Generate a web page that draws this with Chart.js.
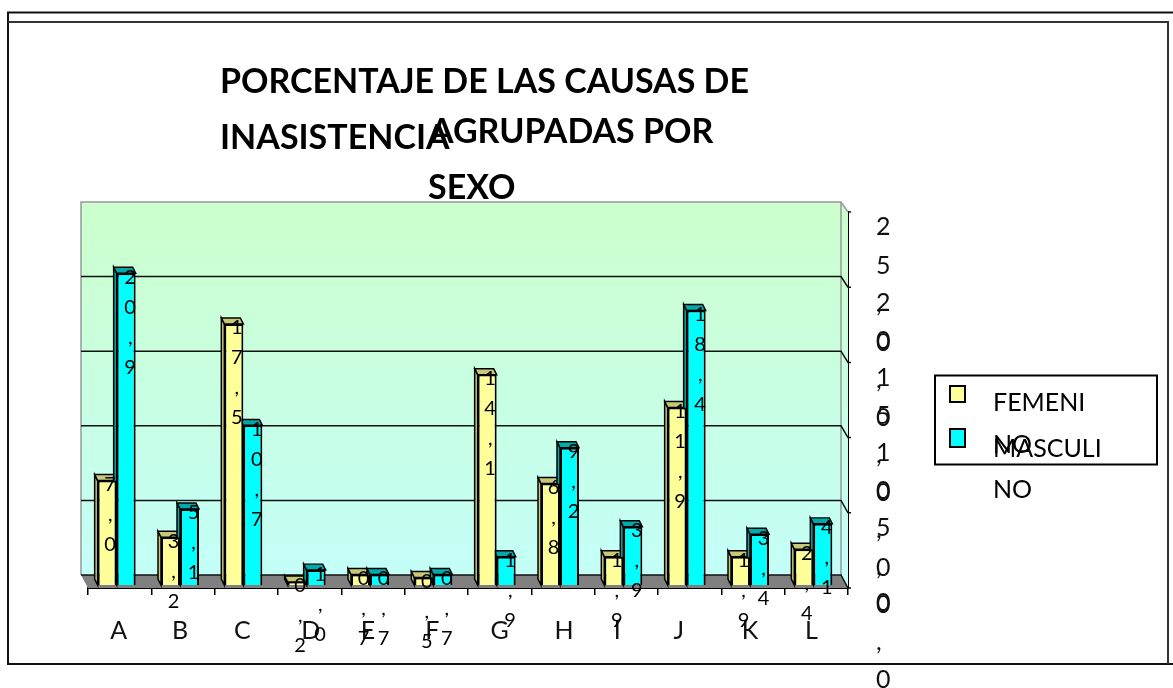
<!DOCTYPE html>
<html>
<head>
<meta charset="utf-8">
<style>html,body{margin:0;padding:0;background:#fff}canvas{display:block}</style>
<script src="https://cdn.jsdelivr.net/npm/chart.js@4"></script>
</head>
<body>
<div style="width:1173px;height:688px"><canvas id="c" width="1173" height="688"></canvas></div>
<script>
const categories = ['A','B','C','D','E','F','G','H','I','J','K','L'];
const femenino = [7.0,3.2,17.5,0.2,0.7,0.5,14.1,6.8,1.9,11.9,1.9,2.4];
const masculino = [20.9,5.1,10.7,1.0,0.7,0.7,1.9,9.2,3.9,18.4,3.4,4.1];
const seriesNames = ['FEMENINO','MASCULINO'];
const FONT = 'Lato, Carlito, sans-serif';
const fmt = v => v.toFixed(1).replace('.', ',');
const DX = 7, DY = 13;       // wall depth
const K = 0.992;             // vertical foreshortening of the 3D view
const MX = 3, MY = 3;        // bars stand at mid-depth
const BX = 3, BY = 6;        // bar depth
const xLabelNudge = [2,0,-1,4,-2,-1,3,4,-6,-8,0,-2];

function text(ctx, s, x, y, font, align) {
  ctx.font = font; ctx.fillStyle = '#000'; ctx.textAlign = align || 'left'; ctx.textBaseline = 'middle';
  ctx.fillText(s, x, y);
}
function poly(ctx, pts, fill, stroke, lw) {
  ctx.beginPath(); pts.forEach((p,i)=> i?ctx.lineTo(p[0],p[1]):ctx.moveTo(p[0],p[1])); ctx.closePath();
  if (fill) { ctx.fillStyle = fill; ctx.fill(); }
  if (stroke) { ctx.strokeStyle = stroke; ctx.lineWidth = lw||1; ctx.stroke(); }
}

const scene = {
  id: 'scene',
  beforeDraw(chart) {
    const sx = chart.scales.x;
    if (!sx._nudged) {
      sx.getLabelItems().forEach((it,i)=>{ it.options.translation[0] += xLabelNudge[i]; });
      sx._nudged = true;
    }
  },
  beforeDatasetsDraw(chart) {
    const {ctx, chartArea:a, scales:{y}} = chart;
    ctx.save();
    // frames
    ctx.strokeStyle = '#111'; ctx.lineWidth = 2;
    ctx.beginPath(); ctx.moveTo(1173,12.5); ctx.lineTo(8,12.5); ctx.lineTo(8,664); ctx.lineTo(1173,664); ctx.stroke();
    ctx.strokeStyle = '#333';
    ctx.beginPath(); ctx.moveTo(8,22); ctx.lineTo(1168,22); ctx.lineTo(1168,664); ctx.stroke();
    // title
    const tf = 'bold 34px ' + FONT;
    text(ctx,'PORCENTAJE DE LAS CAUSAS DE',220,82,tf);
    text(ctx,'INASISTENCIA',220,138,tf);
    text(ctx,'AGRUPADAS POR',430,132,tf);
    text(ctx,'SEXO',428,188,tf);
    // back wall
    const back = p => a.bottom - DY - (a.bottom - p)*K;
    const l = a.left-DX, r = a.right-DX, t = back(a.top), b = back(a.bottom);
    const g = ctx.createLinearGradient(0,t,0,b);
    g.addColorStop(0,'#ccffcc'); g.addColorStop(1,'#c4fff8');
    ctx.fillStyle = g; ctx.fillRect(l,t,r-l,b-t);
    poly(ctx,[[r,t],[a.right,a.top],[a.right,a.bottom],[r,b]],g);
    ctx.strokeStyle='#999'; ctx.lineWidth=1.5;
    ctx.beginPath(); ctx.moveTo(l,b); ctx.lineTo(l,t); ctx.lineTo(r,t); ctx.lineTo(a.right,a.top); ctx.stroke();
    ctx.beginPath(); ctx.moveTo(r,t); ctx.lineTo(r,b); ctx.stroke();
    // floor
    poly(ctx,[[l,b],[r,b],[a.right,a.bottom],[a.left,a.bottom]],'#808080');
    // grid lines
    ctx.strokeStyle='#111'; ctx.lineWidth=1.5;
    y.ticks.forEach(tk=>{
      const p = y.getPixelForValue(tk.value), q = back(p);
      ctx.beginPath();
      if (tk.value !== y.max) { ctx.moveTo(l,q); ctx.lineTo(r,q); ctx.lineTo(a.right,p); }
      else ctx.moveTo(a.right,p);
      ctx.lineTo(a.right+3,p); ctx.stroke();
    });
    // bar depth faces, drawn in a transform that also applies to the bars themselves
    ctx.translate(-MX, -MY + a.bottom*(1-K));
    ctx.scale(1, K);
    ['#c8c878','#00aaaa'].forEach((c,i)=>{
      chart.getDatasetMeta(i).data.forEach(el=>{
        const hw = el.width/2, x0 = el.x-hw, x1 = el.x+hw, yy = el.y, bb = el.base;
        poly(ctx,[[x0,yy],[x0-BX,yy-BY],[x0-BX,bb-BY],[x0,bb]],c,'#000',1.5);
        poly(ctx,[[x0,yy],[x0-BX,yy-BY],[x1-BX,yy-BY],[x1,yy]],c,'#000',1.5);
      });
    });
  },
  afterDatasetsDraw(chart) {
    const {ctx, chartArea:a} = chart;
    ctx.restore();
    // vertical data labels, wrapped one character per line
    [femenino,masculino].forEach((vals,i)=>{
      chart.getDatasetMeta(i).data.forEach((el,j)=>{
        const top = a.bottom - MY - (a.bottom - el.y)*K;
        [...fmt(vals[j])].forEach((ch,k)=> text(ctx,ch,el.x+i,top+4+k*30,'20px '+FONT,'center'));
      });
    });
    // legend
    ctx.strokeStyle='#000'; ctx.lineWidth=2; ctx.strokeRect(935,375.5,222,89);
    poly(ctx,[[950,386],[965,386],[965,402],[950,402]],'#ffff99','#000',2);
    poly(ctx,[[950,429],[965,429],[965,447],[950,447]],'#00ffff','#000',2);
    const lf='25px '+FONT;
    text(ctx,'FEMENI',993,403,lf);
    text(ctx,'NO',993,445,lf);
    text(ctx,'MASCULI',993,449,lf);
    text(ctx,'NO',993,490,lf);
  }
};

new Chart(document.getElementById('c'),{
  type:'bar',
  data:{labels:categories,datasets:[
    {label:seriesNames[0],data:femenino,backgroundColor:'#ffff99',borderColor:'#000',borderWidth:2,clip:false,
     categoryPercentage:0.6,barPercentage:1},
    {label:seriesNames[1],data:masculino,backgroundColor:'#00ffff',borderColor:'#000',borderWidth:2,clip:false,
     categoryPercentage:0.6,barPercentage:1}
  ]},
  options:{
    responsive:false,animation:false,
    layout:{padding:{left:88,top:212,right:0,bottom:0}},
    plugins:{legend:{display:false},tooltip:{enabled:false}},
    scales:{
      x:{position:'bottom',offset:true,
        afterFit(s){s.height=100;},
        grid:{display:true,drawOnChartArea:false,drawTicks:true,tickLength:7,color:'#000',lineWidth:1.5,offset:true},
        border:{color:'#000',width:2},
        ticks:{color:'#111',font:{family:FONT,size:25},padding:21,autoSkip:false,maxRotation:0,minRotation:0,labelOffset:-3}},
      y:{position:'right',min:0,max:25,
        afterFit(s){s.width=1173-848;},
        grid:{display:false},
        border:{color:'#000',width:2},
        afterBuildTicks(s){s.ticks=[25,20,15,10,5,0].map(v=>({value:v}));},
        ticks:{color:'#111',font:{family:FONT,size:25,lineHeight:'38.5px'},padding:20,autoSkip:false,labelOffset:73,
          align:'center',
          callback(v){const c=[...fmt(v)];while(c.length<4)c.push('');return c;}}}
    }
  },
  plugins:[scene]
});
</script>
</body>
</html>
